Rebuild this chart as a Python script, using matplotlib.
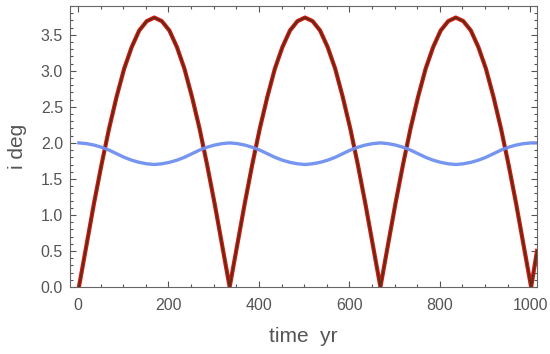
import matplotlib
matplotlib.use("Agg")
import matplotlib.pyplot as plt
from matplotlib.ticker import MultipleLocator

# time samples (yr)
time_yr = [2.0, 18.7, 35.3, 52.0, 68.7, 85.3, 102.0, 118.7, 135.3, 152.0,
           168.7, 185.3, 202.0, 218.7, 235.3, 252.0, 268.7, 285.3, 302.0, 318.7,
           335.3, 352.0, 368.7, 385.3, 402.0, 418.7, 435.3, 452.0, 468.7, 485.3,
           502.0, 518.7, 535.3, 552.0, 568.7, 585.3, 602.0, 618.7, 635.3, 652.0,
           668.7, 685.3, 702.0, 718.7, 735.3, 752.0, 768.7, 785.3, 802.0, 818.7,
           835.3, 852.0, 868.7, 885.3, 902.0, 918.7, 935.3, 952.0, 968.7, 985.3,
           1002.0, 1015.0]

# mutual inclination (deg)
incl_red = [0.00, 0.58, 1.16, 1.70, 2.20, 2.64, 3.03, 3.33, 3.56, 3.69,
            3.74, 3.69, 3.56, 3.33, 3.03, 2.64, 2.20, 1.70, 1.16, 0.58,
            0.00, 0.58, 1.16, 1.70, 2.20, 2.64, 3.03, 3.33, 3.56, 3.69,
            3.74, 3.69, 3.56, 3.33, 3.03, 2.64, 2.20, 1.70, 1.16, 0.58,
            0.00, 0.58, 1.16, 1.70, 2.20, 2.64, 3.03, 3.33, 3.56, 3.69,
            3.74, 3.69, 3.56, 3.33, 3.03, 2.64, 2.20, 1.70, 1.16, 0.58,
            0.00, 0.50]

# inclination of the other body (deg)
incl_blue = [2.00, 1.99, 1.97, 1.94, 1.90, 1.85, 1.80, 1.76, 1.73, 1.71,
             1.70, 1.71, 1.73, 1.76, 1.80, 1.85, 1.90, 1.94, 1.97, 1.99,
             2.00, 1.99, 1.97, 1.94, 1.90, 1.85, 1.80, 1.76, 1.73, 1.71,
             1.70, 1.71, 1.73, 1.76, 1.80, 1.85, 1.90, 1.94, 1.97, 1.99,
             2.00, 1.99, 1.97, 1.94, 1.90, 1.85, 1.80, 1.76, 1.73, 1.71,
             1.70, 1.71, 1.73, 1.76, 1.80, 1.85, 1.90, 1.94, 1.97, 1.99,
             2.00, 2.00]

plt.rcParams["font.family"] = ["Liberation Sans", "DejaVu Sans"]

fig = plt.figure(figsize=(5.5, 3.54), dpi=100)
ax = fig.add_axes([0.1273, 0.1893, 0.8491, 0.7937])

ax.plot(time_yr, incl_red, color="#e01414", lw=3.0, solid_joinstyle="round")
ax.plot(time_yr, incl_red, color="#4a3412", lw=1.4, alpha=0.9)
ax.plot(time_yr, incl_blue, color="#6f8ff0", lw=2.4, alpha=0.95)

ax.set_xlim(-17.7, 1015)
ax.set_ylim(0, 3.9)

ax.xaxis.set_major_locator(MultipleLocator(200))
ax.xaxis.set_minor_locator(MultipleLocator(50))
ax.yaxis.set_major_locator(MultipleLocator(0.5))
ax.yaxis.set_minor_locator(MultipleLocator(0.1))
ax.yaxis.set_major_formatter(plt.FormatStrFormatter("%.1f"))

ax.tick_params(which="both", direction="in", top=True, right=True,
               color="#555555", width=0.8, labelcolor="#555555", labelsize=11.5)
ax.tick_params(which="major", length=4.5)
ax.tick_params(which="minor", length=2.5)
ax.tick_params(axis="x", which="major", pad=8)
ax.tick_params(axis="y", which="major", pad=5)
for sp in ax.spines.values():
    sp.set_color("#666666")
    sp.set_linewidth(0.8)

ax.set_xlabel("time  yr", fontsize=15, color="#555555", labelpad=10)
ax.set_ylabel("i deg", fontsize=15, color="#555555", labelpad=10)

fig.savefig("out.png", dpi=100)
